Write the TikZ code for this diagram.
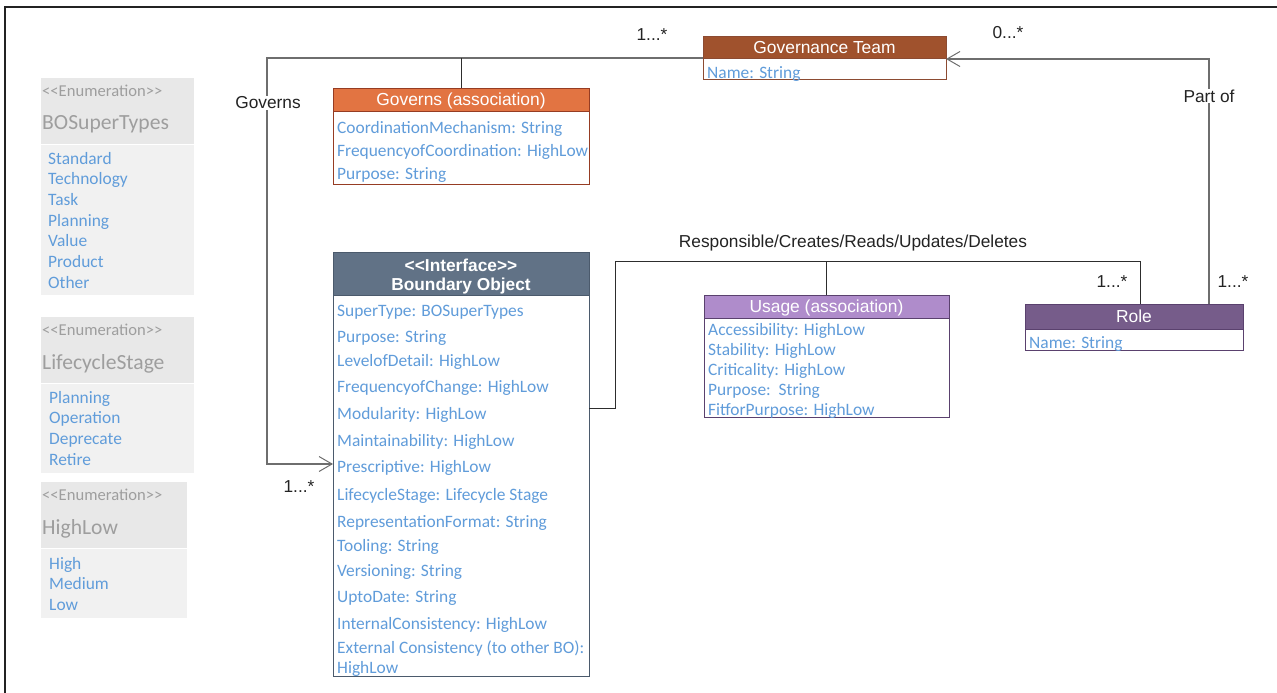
\documentclass[tikz,border=0pt]{standalone}
\usepackage{fontspec}
\setmainfont{Liberation Sans}
\newfontfamily\calib{Carlito}
\usetikzlibrary{arrows.meta}

% guillemet-safe double angle brackets
\newcommand\dlt{<\kern0pt<}
\newcommand\dgt{>\kern0pt>}

\definecolor{gtHead}{RGB}{160,82,45}
\definecolor{gtLine}{RGB}{140,75,50}
\definecolor{govHead}{RGB}{226,116,66}
\definecolor{govLine}{RGB}{150,60,35}
\definecolor{boHead}{RGB}{97,114,134}
\definecolor{boLine}{RGB}{75,90,108}
\definecolor{usHead}{RGB}{175,140,203}
\definecolor{usLine}{RGB}{90,65,110}
\definecolor{roleHead}{RGB}{118,92,138}
\definecolor{roleLine}{RGB}{90,65,110}
\definecolor{attr}{RGB}{96,156,218}
\definecolor{enHead}{RGB}{232,232,232}
\definecolor{enBody}{RGB}{241,241,241}
\definecolor{enText}{RGB}{158,158,158}
\definecolor{wire}{RGB}{110,110,110}
\definecolor{wireDark}{RGB}{45,45,45}
\definecolor{ink}{RGB}{35,35,35}

\tikzset{
  box/.style={draw, line width=1pt, inner sep=0pt, outer sep=0pt, anchor=north west},
  hd/.style={box, text=white, font=\fontsize{17.4}{19}\selectfont,
             text height=11pt, text depth=0pt},
  enumbox/.style={inner sep=0pt, outer sep=0pt, anchor=north west},
  attrtxt/.style={anchor=base west, inner sep=0pt, text=attr,
                  font=\calib\fontsize{17.4}{20}\selectfont},
  enumtag/.style={anchor=base west, inner sep=0pt, text=enText,
                  font=\calib\fontsize{16.6}{19}\selectfont},
  enumname/.style={anchor=base west, inner sep=0pt, text=enText,
                   font=\calib\fontsize{21.6}{24}\selectfont},
  lbl/.style={text=ink, font=\fontsize{17.3}{20}\selectfont, inner sep=1pt},
  wirel/.style={draw=wire, line width=1.3pt},
  wired/.style={draw=wireDark, line width=1pt},
  openarrow/.style={-{Straight Barb[length=13pt,width=15pt,line width=1pt]}},
}

\begin{document}
\begin{tikzpicture}[x=1pt,y=-1pt]
\useasboundingbox (0,0) rectangle (1277,693);

% outer frame (top and left edges)
\draw[ink, line width=1.5pt] (5,693) -- (5,7) -- (1277,7);

% ---------- enumerations ----------
\node[enumbox, fill=enHead, minimum width=153pt, minimum height=66pt] (e1h) at (41,78) {};
\node[enumbox, fill=enBody, minimum width=153pt, minimum height=150pt] (e1b) at (41,145) {};
\node[enumtag] (e1t) at (42,96) {\dlt Enumeration\dgt};
\node[enumname] (e1n) at (42,129) {BOSuperTypes};
\foreach \lbltext [count=\i] in {Standard,Technology,Task,Planning,Value,Product,Other}
  \node[attrtxt] (e1a\i) at (48,{164+(\i-1)*20.7}) {\lbltext};

\node[enumbox, fill=enHead, minimum width=153pt, minimum height=66pt] (e2h) at (41,317) {};
\node[enumbox, fill=enBody, minimum width=153pt, minimum height=89pt] (e2b) at (41,384) {};
\node[enumtag] (e2t) at (42,335) {\dlt Enumeration\dgt};
\node[enumname] (e2n) at (42,369) {LifecycleStage};
\foreach \lbltext [count=\i] in {Planning,Operation,Deprecate,Retire}
  \node[attrtxt] (e2a\i) at (49,{403+(\i-1)*20.9}) {\lbltext};

\node[enumbox, fill=enHead, minimum width=146pt, minimum height=66pt] (e3h) at (41,482) {};
\node[enumbox, fill=enBody, minimum width=146pt, minimum height=69pt] (e3b) at (41,549) {};
\node[enumtag] (e3t) at (42,500) {\dlt Enumeration\dgt};
\node[enumname] (e3n) at (42,534) {HighLow};
\foreach \lbltext [count=\i] in {High,Medium,Low}
  \node[attrtxt] (e3a\i) at (49,{569+(\i-1)*20.7}) {\lbltext};

% ---------- Governance Team ----------
\node[hd, draw=gtLine, fill=gtHead, minimum width=243pt, minimum height=22pt] (gtH) at (703,37) {Governance Team};
\node[box, draw=gtLine, fill=white, minimum width=243pt, minimum height=21pt] (gtB) at (703,59) {};
\node[attrtxt] (gtA1) at (707,78) {Name: String};

% ---------- Governs (association) ----------
\node[hd, draw=govLine, fill=govHead, minimum width=256pt, minimum height=23pt] (govH) at (333,88) {Governs (association)};
\node[box, draw=govLine, fill=white, minimum width=256pt, minimum height=73pt] (govB) at (333,111) {};
\foreach \yy/\lbltext [count=\i] in {133/CoordinationMechanism: String,
    156/FrequencyofCoordination: HighLow, 179/Purpose: String}
  \node[attrtxt] (govA\i) at (337,\yy) {\lbltext};

% ---------- Boundary Object ----------
\node[box, draw=boLine, fill=boHead, minimum width=256pt, minimum height=43pt] (boH) at (333,252) {};
\node[anchor=base, text=white, inner sep=0pt, font=\bfseries\fontsize{17.3}{19}\selectfont] (boT1) at (461,271) {\dlt Interface\dgt};
\node[anchor=base, text=white, inner sep=0pt, font=\bfseries\fontsize{17.3}{19}\selectfont] (boT2) at (461,290) {Boundary Object};
\node[box, draw=boLine, fill=white, minimum width=256pt, minimum height=381pt] (boB) at (333,295) {};
\foreach \yy/\lbltext [count=\i] in {
    316/SuperType: BOSuperTypes,
    342/Purpose: String,
    366/LevelofDetail: HighLow,
    392/FrequencyofChange: HighLow,
    419/Modularity: HighLow,
    446/Maintainability: HighLow,
    472/Prescriptive: HighLow,
    500/LifecycleStage: Lifecycle Stage,
    527/RepresentationFormat: String,
    551/Tooling: String,
    576/Versioning: String,
    602/UptoDate: String,
    629/InternalConsistency: HighLow,
    653/External Consistency (to other BO):,
    673/HighLow}
  \node[attrtxt] (boA\i) at (337,\yy) {\lbltext};

% ---------- Usage (association) ----------
\node[hd, draw=usLine, fill=usHead, minimum width=245pt, minimum height=23pt] (usH) at (704,295) {Usage (association)};
\node[box, draw=usLine, fill=white, minimum width=245pt, minimum height=99pt] (usB) at (704,318) {};
\foreach \yy/\lbltext [count=\i] in {335/Accessibility: HighLow, 355/Stability: HighLow,
    375/Criticality: HighLow, 395/Purpose:\ \ String, 415/FitforPurpose: HighLow}
  \node[attrtxt] (usA\i) at (708,\yy) {\lbltext};

% ---------- Role ----------
\node[hd, draw=roleLine, fill=roleHead, minimum width=218pt, minimum height=25pt] (roleH) at (1025,304) {Role};
\node[box, draw=roleLine, fill=white, minimum width=218pt, minimum height=21pt] (roleB) at (1025,329) {};
\node[attrtxt] (roleA1) at (1029,348) {Name: String};

% ---------- connector anchors ----------
\coordinate (govTurn) at (267,58);
\coordinate (boIn) at (333,464);
\coordinate (boOut) at (589,408);
\coordinate (usTurn) at (615,261);
\coordinate (roleIn1) at (1140,304);
\coordinate (roleIn2) at (1209,304);
\coordinate (gtIn) at (946,59);

% Governs: Governance Team -> Boundary Object
\draw[wirel, openarrow] (703,58) -- (govTurn) |- (boIn);
\draw[wired] (govH.north) -- (govH.north |- govTurn);

% Responsible/...: Boundary Object -- Role
\draw[wired] (boOut) -| (usTurn) -| (roleIn1);
\draw[wired] (usH.north) -- (usH.north |- usTurn);

% Part of: Role -> Governance Team
\draw[wirel, openarrow] (roleIn2) |- (gtIn);

% ---------- connector labels ----------
\node[lbl, fill=white] (lGov) at (268,103) {Governs};
\node[lbl, fill=white] (lPart) at (1209,96) {Part of};
\node[lbl] (m1) at (652,35) {1...*};
\node[lbl] (m2) at (1008,33) {0...*};
\node[lbl] (m3) at (299,487) {1...*};
\node[lbl] (lResp) at (853,243) {Responsible/Creates/Reads/Updates/Deletes};
\node[lbl] (m4) at (1112,282) {1...*};
\node[lbl] (m5) at (1233,282) {1...*};
\end{tikzpicture}
\end{document}
